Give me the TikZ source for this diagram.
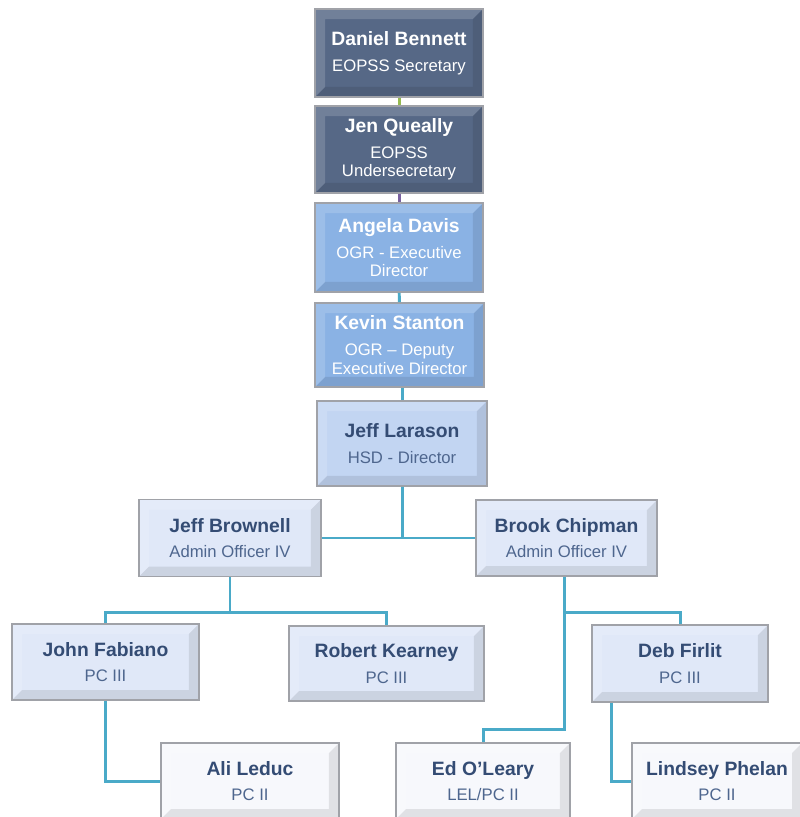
\documentclass[tikz,border=0pt]{standalone}
\usepackage{fontspec}
\setmainfont{Liberation Sans}
\usepackage{tikz}
\usetikzlibrary{
  positioning,
  calc
}
\definecolor{slate}{RGB}{86,104,134}
\definecolor{midblue}{RGB}{138,178,228}
\definecolor{paleblue}{RGB}{194,213,242}
\definecolor{iceblue}{RGB}{224,232,248}
\definecolor{snow}{RGB}{247,248,252}
\definecolor{rim}{RGB}{160,162,168}
\definecolor{inkblue}{RGB}{52,76,116}
\definecolor{roleblue}{RGB}{78,102,142}
\definecolor{teal}{RGB}{74,170,200}
\definecolor{lime}{RGB}{150,186,80}
\definecolor{plum}{RGB}{120,96,160}

\newcommand{\pname}[1]{{\fontsize{11}{12}\selectfont\bfseries #1}}

\tikzset{
  card/.style={draw=rim, line width=0.9pt, align=center, inner sep=2pt,
    font=\fontsize{9.5}{10.5}\selectfont,
    path picture={
      \coordinate (bvsw) at (path picture bounding box.south west);
      \coordinate (bvne) at (path picture bounding box.north east);
      \fill[white, opacity=.16] (bvsw) |- (bvne) -- ++(-0.2cm,-0.2cm) -| ($(bvsw)+(0.2cm,0.2cm)$) -- cycle;
      \fill[black, opacity=.09] (bvsw) -| (bvne) -- ++(-0.2cm,-0.2cm) |- ($(bvsw)+(0.2cm,0.2cm)$) -- cycle;
    }},
  darkcard/.style={card, fill=slate, text=white},
  bluecard/.style={card, fill=midblue, text=white},
  palecard/.style={card, fill=paleblue, text=roleblue},
  icecard/.style={card, fill=iceblue, text=roleblue},
  snowcard/.style={card, fill=snow, text=roleblue},
  link/.style={draw=teal, line width=1.7pt}
}

\begin{document}
\begin{tikzpicture}[x=0.02cm, y=-0.02cm]
  \clip (0,0) rectangle (800,817);
  \fill[white] (0,0) rectangle (800,817);

  % Top of the chain
  \node[darkcard, minimum width=3.36cm, minimum height=1.76cm] (bennett) at (399,53)
    {\pname{Daniel Bennett}\\[4.2pt]EOPSS Secretary};
  \node[darkcard, minimum width=3.36cm, minimum height=1.74cm] (queally) at (399,149.5)
    {\pname{Jen Queally}\\[4.2pt]EOPSS\\Undersecretary};
  \node[bluecard, minimum width=3.36cm, minimum height=1.78cm] (davis) at (399,247.5)
    {\pname{Angela Davis}\\[4.2pt]OGR - Executive\\Director};
  \node[bluecard, minimum width=3.38cm, minimum height=1.68cm] (stanton) at (399.5,345)
    {\pname{Kevin Stanton}\\[4.2pt]OGR -- Deputy\\Executive Director};
  \node[palecard, minimum width=3.40cm, minimum height=1.70cm] (larason) at (402,443.5)
    {\textcolor{inkblue}{\pname{Jeff Larason}}\\[4.2pt]HSD - Director};

  % Admin officers
  \node[icecard, minimum width=3.64cm, minimum height=1.54cm] (brownell) at (230,538)
    {\textcolor{inkblue}{\pname{Jeff Brownell}}\\[4.2pt]Admin Officer IV};
  \node[icecard, minimum width=3.62cm, minimum height=1.52cm] (chipman) at (566.5,538)
    {\textcolor{inkblue}{\pname{Brook Chipman}}\\[4.2pt]Admin Officer IV};

  % PC III
  \node[icecard, minimum width=3.74cm, minimum height=1.52cm] (fabiano) at (105.5,662)
    {\textcolor{inkblue}{\pname{John Fabiano}}\\[4.2pt]PC III};
  \node[icecard, minimum width=3.90cm, minimum height=1.50cm] (kearney) at (386.5,663.5)
    {\textcolor{inkblue}{\pname{Robert Kearney}}\\[4.2pt]PC III};
  \node[icecard, minimum width=3.52cm, minimum height=1.54cm] (firlit) at (680,663.5)
    {\textcolor{inkblue}{\pname{Deb Firlit}}\\[4.2pt]PC III};

  % PC II
  \node[snowcard, minimum width=3.56cm, minimum height=1.52cm] (leduc) at (250,781)
    {\textcolor{inkblue}{\pname{Ali Leduc}}\\[4.2pt]PC II};
  \node[snowcard, minimum width=3.48cm, minimum height=1.52cm] (oleary) at (483,781)
    {\textcolor{inkblue}{\pname{Ed O'Leary}}\\[4.2pt]LEL/PC II};
  \node[snowcard, minimum width=3.40cm, minimum height=1.52cm] (phelan) at (717,781)
    {\textcolor{inkblue}{\pname{Lindsey Phelan}}\\[4.2pt]PC II};

  % Connectors
  \draw[draw=lime, line width=1.7pt] (bennett) -- (queally);
  \draw[draw=plum, line width=1.7pt] (queally) -- (davis);
  \draw[link] (davis) -- (stanton);
  \draw[link] (stanton.south -| larason.north) -- (larason.north);
  \draw[link] (brownell.east) -| (larason.south) |- (chipman.west);

  \coordinate (busleft) at (230,612);
  \coordinate (busright) at (564,612);
  \coordinate (busdown) at (564,729);
  \draw[link] (brownell.south) -- (busleft) -| (fabiano.north);
  \draw[link] (busleft) -| (kearney.north);
  \draw[link] (chipman.south -| busright) -- (busright) -| (firlit.north);
  \draw[link] (busright) -- (busdown) -| (oleary.north);
  \draw[link] (fabiano.south) |- (leduc.west);
  \draw[link] ($(firlit.south west)+(20,0)$) |- (phelan.west);
\end{tikzpicture}
\end{document}
